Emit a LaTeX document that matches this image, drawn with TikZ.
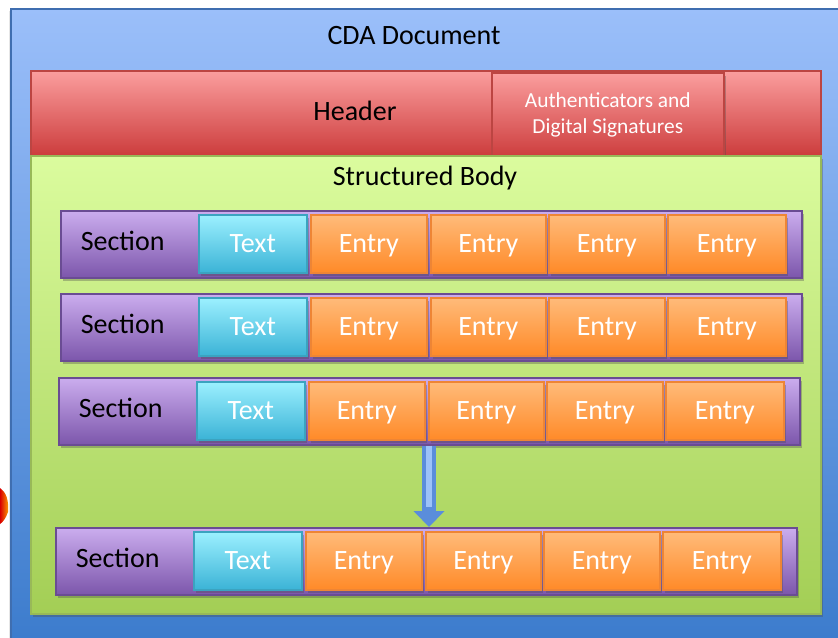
\documentclass[tikz,border=0pt]{standalone}
\usepackage{fontspec}
\setmainfont{Carlito}
\usetikzlibrary{shadows,arrows.meta}

% palette
\definecolor{docTop}{HTML}{9BBFFA}
\definecolor{docBot}{HTML}{3B7BCC}
\definecolor{docLine}{HTML}{3F6EB0}
\definecolor{hdrTop}{HTML}{FB9E9E}
\definecolor{hdrBot}{HTML}{CC3C3C}
\definecolor{hdrLine}{HTML}{BC4542}
\definecolor{bodyTop}{HTML}{DBFC9E}
\definecolor{bodyBot}{HTML}{A3CE55}
\definecolor{bodyLine}{HTML}{98B958}
\definecolor{secTop}{HTML}{CBADEE}
\definecolor{secBot}{HTML}{7C56AB}
\definecolor{secLine}{HTML}{6A4C93}
\definecolor{txtTop}{HTML}{9CF0FF}
\definecolor{txtBot}{HTML}{3BB3D6}
\definecolor{txtLine}{HTML}{3BA3C0}
\definecolor{entTop}{HTML}{FFBB7A}
\definecolor{entBot}{HTML}{FF8A28}
\definecolor{entLine}{HTML}{EE8535}
\definecolor{arrFill}{HTML}{5A8DDB}
\definecolor{arrLight}{HTML}{9CC2F8}

\begin{document}
\begin{tikzpicture}[x=0.5pt,y=-0.5pt,
  box/.style={rectangle, inner sep=0pt, anchor=north west, line width=0.8pt},
  sz/.style 2 args={minimum width=#1*0.5pt, minimum height=#2*0.5pt},
  soft/.style={drop shadow={shadow xshift=1.2pt, shadow yshift=-1.5pt, opacity=0.35, fill=black!70}},
  big/.style={font=\fontsize{14}{16.8}\selectfont},
  small/.style={font=\fontsize{10.7}{13}\selectfont},
  sec/.style={box, soft, sz={741}{67}, draw=secLine, top color=secTop, bottom color=secBot,
    text width=350.5pt, inner xsep=10pt, align=left, big, text=black},
  txt/.style={box, soft, sz={108}{58}, draw=txtLine, top color=txtTop, bottom color=txtBot,
    big, text=white},
  entry/.style={box, soft, draw=entLine, top color=entTop, bottom color=entBot,
    big, text=white, text depth=0pt},
  caption/.style={inner sep=0pt, big, text=black}
  ]
\useasboundingbox (0,0) rectangle (838,637);
\begin{scope}
\clip (0,0) rectangle (838,637);

% outer document frame
\node[box, sz={840}{640}, draw=docLine, line width=1pt, top color=docTop, bottom color=docBot,
  drop shadow={shadow xshift=-1pt, shadow yshift=-1pt, opacity=0.2}] (doc) at (10,8) {};
\node[caption] (docname) at (414,36) {CDA Document};

% header with the signature block sitting on it
\node[box, sz={790}{85}, draw=hdrLine, top color=hdrTop, bottom color=hdrBot] (header) at (30,70) {};
\node[caption] (hdrname) at (355,111) {Header};
\node[box, soft, sz={232}{85}, draw=hdrLine, top color=hdrTop, bottom color=hdrBot,
  small, text=white, align=center] (auth) at (491,72) {Authenticators and\\Digital Signatures};

% structured body
\node[box, soft, sz={790}{458}, draw=bodyLine, top color=bodyTop, bottom color=bodyBot] (body) at (30,155) {};
\node[caption] (bodyname) at (425,178) {Structured Body};

% section rows: Section / Text / four entries
\foreach \r/\x/\y in {1/60/210, 2/60/293, 3/58/377, 4/55/527} {
  \node[sec] (s\r) at (\x,\y) {\raisebox{3pt}{Section}};
  \node[txt] (t\r) at (\x+138,\y+4) {Text};
  \foreach \k/\dx/\w in {1/250/116, 2/370/115, 3/488/116, 4/607/118} {
    \node[entry, sz={\w}{58}] (e\r-\k) at (\x+\dx,\y+4) {Entry};
  }
}

% continuation arrow between the third and the last section
\coordinate (ax) at (429,0);
\draw[line width=7pt, draw=arrFill, -{Triangle[width=15pt,length=8pt]}]
  (s3.south -| ax) -- (s4.north -| ax);
\draw[line width=3pt, draw=arrLight] (s3.south -| ax) -- ([yshift=10pt]s4.north -| ax);

% small red-orange mark at the left edge
\shade[left color=red!85!black, right color=orange!70!yellow]
  (0,488) .. controls (6,492) and (9,500) .. (8,512) .. controls (6,518) and (3,522) .. (0,524) -- cycle;
\end{scope}
\end{tikzpicture}
\end{document}
